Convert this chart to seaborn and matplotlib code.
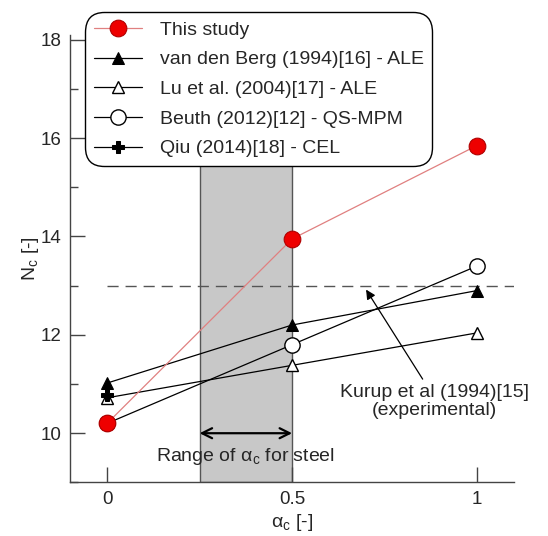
import matplotlib
matplotlib.use("Agg")
import matplotlib.pyplot as plt
import seaborn as sns
import pandas as pd

# ---- data ----
alpha_this = [0.0, 0.5, 1.0]
nc_this = [10.2, 13.95, 15.85]
alpha_vdb = [0.0, 0.5, 1.0]
nc_vdb = [11.02, 12.2, 12.9]
alpha_lu = [0.0, 0.5, 1.0]
nc_lu = [10.72, 11.38, 12.04]
alpha_beuth = [0.0, 0.5, 1.0]
nc_beuth = [10.2, 11.8, 13.4]
alpha_qiu = [0.0]
nc_qiu = [10.78]
kurup_nc = 13.0
steel_range = [0.25, 0.5]

labels = ["This study", "van den Berg (1994)[16] - ALE", "Lu et al. (2004)[17] - ALE",
          "Beuth (2012)[12] - QS-MPM", "Qiu (2014)[18] - CEL"]

sns.set_theme(style="ticks")
plt.rcParams["font.family"] = ["Liberation Sans", "DejaVu Sans"]
plt.rcParams["mathtext.fontset"] = "custom"
plt.rcParams["mathtext.rm"] = "Liberation Sans"
plt.rcParams["mathtext.it"] = "Liberation Sans:italic"
plt.rcParams["xtick.direction"] = "in"
plt.rcParams["ytick.direction"] = "in"

fig = plt.figure(figsize=(5.48, 5.36), dpi=100)
ax = fig.add_axes([0.128, 0.1, 0.81, 0.835])

spine_col = "#444444"
ax.axvspan(steel_range[0], steel_range[1], facecolor="#c8c8c8", edgecolor="#555555", lw=1.0, zorder=0)
ax.axhline(kurup_nc, xmin=(0 + 0.1) / 1.2, xmax=1.0, color="#555555", lw=1.0, ls=(0, (8, 5)), zorder=1)

sns.lineplot(x=alpha_beuth, y=nc_beuth, ax=ax, color="black", lw=0.9, marker="o", markersize=11,
             markerfacecolor="white", markeredgecolor="black", markeredgewidth=1.0, label=labels[3], zorder=3)
sns.lineplot(x=alpha_lu, y=nc_lu, ax=ax, color="black", lw=0.9, marker="^", markersize=9,
             markerfacecolor="white", markeredgecolor="black", markeredgewidth=1.0, label=labels[2], zorder=3)
sns.lineplot(x=alpha_vdb, y=nc_vdb, ax=ax, color="black", lw=0.9, marker="^", markersize=9,
             markerfacecolor="black", markeredgecolor="black", label=labels[1], zorder=3)
sns.lineplot(x=alpha_qiu, y=nc_qiu, ax=ax, color="black", lw=0.9, marker="P", markersize=9,
             markerfacecolor="black", markeredgecolor="black", label=labels[4], zorder=4)
sns.lineplot(x=alpha_this, y=nc_this, ax=ax, color="#e08080", lw=0.9, marker="o", markersize=12,
             markerfacecolor="#ee0000", markeredgecolor="#b00000", markeredgewidth=0.8, label=labels[0], zorder=5)

ax.set_xlim(-0.1, 1.1)
ax.set_ylim(9.0, 18.1)
ax.set_xticks([0, 0.5, 1])
ax.set_xticklabels(["0", "0.5", "1"])
ax.set_yticks([10, 12, 14, 16, 18])
ax.set_yticks([9, 11, 13, 15, 17], minor=True)
ax.tick_params(axis="both", which="major", direction="in", length=11, width=1.0, color=spine_col,
               labelsize=13.5, pad=6)
ax.tick_params(axis="y", which="minor", direction="in", length=6, width=1.0, color=spine_col)
for s in ["top", "right"]:
    ax.spines[s].set_visible(False)
for s in ["left", "bottom"]:
    ax.spines[s].set_color(spine_col)
    ax.spines[s].set_linewidth(1.0)

ax.set_xlabel("α$_\\mathrm{c}$ [-]", fontsize=14, labelpad=3)
ax.set_ylabel(r"N$_\mathrm{c}$ [-]", fontsize=14, labelpad=0)

ax.annotate("", xy=(0.25, 10.0), xytext=(0.5, 10.0),
            arrowprops=dict(arrowstyle="<->", lw=1.6, color="black", mutation_scale=18, shrinkA=0, shrinkB=0))
ax.text(0.375, 9.52, "Range of α$_\\mathrm{c}$ for steel", ha="center", va="center", fontsize=14)
ax.text(0.886, 10.65, "Kurup et al (1994)[15]\n(experimental)", ha="center", va="center",
        fontsize=14, linespacing=1.1)
ax.annotate("", xy=(0.70, 12.92), xytext=(0.853, 11.1),
            arrowprops=dict(arrowstyle="-|>", lw=0.9, color="black", mutation_scale=14,
                            shrinkA=0, shrinkB=0))

h, l = ax.get_legend_handles_labels()
order = [l.index(x) for x in labels]
leg = ax.legend([h[i] for i in order], [l[i] for i in order], loc="upper left",
                bbox_to_anchor=(0.033, 1.05), borderaxespad=0, fontsize=14, frameon=True,
                fancybox=True, edgecolor="black", handlelength=2.5, labelspacing=0.62,
                handletextpad=0.9, borderpad=0.45)
leg.get_frame().set_linewidth(1.0)
leg.get_frame().set_alpha(1.0)
leg.get_frame().set_boxstyle("round,pad=0,rounding_size=1.0")
leg.set_zorder(10)

fig.savefig("out.png", dpi=100)
